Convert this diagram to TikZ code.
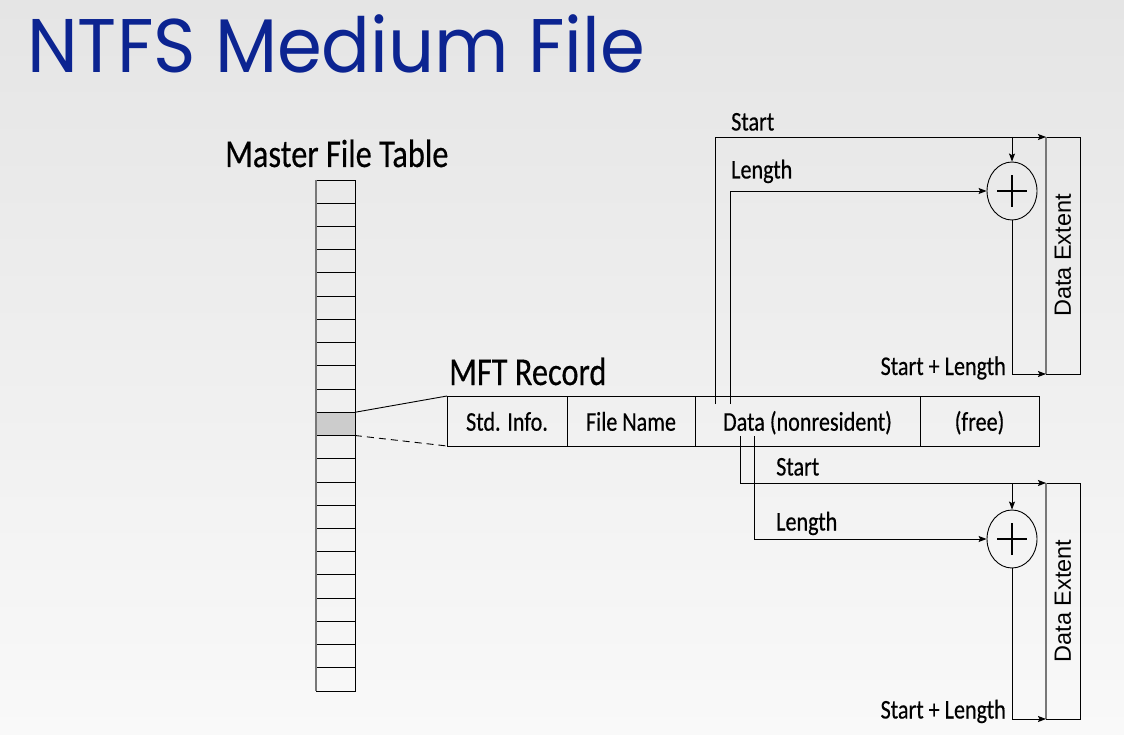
\documentclass[tikz,border=0pt]{standalone}
\usepackage{fontspec}
\usetikzlibrary{arrows.meta,shapes.geometric}
\newfontfamily\titlefont[FakeStretch=0.95]{Poppins}
\newfontfamily\labfont[FakeStretch=0.82,FakeBold=0.4]{Carlito}
\newfontfamily\extfont{Liberation Sans}
\definecolor{titleblue}{RGB}{12,36,145}
\definecolor{bgtop}{RGB}{229,229,229}
\definecolor{bgbot}{RGB}{249,249,249}
\definecolor{slotgray}{RGB}{204,204,204}
\definecolor{edgegray}{RGB}{120,120,120}

\begin{document}
\begin{tikzpicture}[x=1pt,y=-1pt,
  wire/.style={line width=0.9pt},
  arr/.style={wire,-{Stealth[length=8pt,width=6pt,inset=1.5pt]}},
  smalltext/.style={font=\labfont\fontsize{27}{30}\selectfont, inner sep=0pt},
  bigtext/.style={font=\labfont\fontsize{39.5}{42}\selectfont, inner sep=0pt},
  slot/.style={draw, line width=0.9pt, minimum width=39pt, minimum height=23.227pt,
    inner sep=0pt, outer sep=0pt, anchor=north west},
  cell/.style={draw, line width=0.9pt, minimum height=50pt, inner sep=0pt, outer sep=0pt,
    anchor=west, font=\labfont\fontsize{27}{30}\selectfont, text height=19.4pt, text depth=0pt},
  adder/.style={draw, ellipse, line width=0.9pt, minimum width=50pt, minimum height=58pt,
    inner sep=0pt},
  extent/.style={draw, line width=0.9pt, minimum width=34pt, inner sep=0pt, outer sep=0pt,
    font=\extfont\fontsize{23.5}{25}\selectfont},
  plus/.style={line width=2.8pt}]

% background
\useasboundingbox (0,0) rectangle (1124,735);
\fill[top color=bgtop, bottom color=bgbot] (0,0) rectangle (1124,735);

% title
\node[anchor=base west, inner sep=0pt, text=titleblue,
  font=\titlefont\fontsize{76}{80}\selectfont] (title) at (27,73) {NTFS Medium File};

% master file table
\node[bigtext, anchor=base west] (mftlabel) at (225,167) {Master File Table};
\foreach \i in {0,...,21} {
  \ifnum\i=10
    \node[slot, fill=slotgray] (r\i) at (316,{180+\i*23.227}) {};
  \else
    \node[slot] (r\i) at (316,{180+\i*23.227}) {};
  \fi
}
\draw[edgegray, line width=1.5pt] (r0.north west) -- (r21.south west);

% MFT record
\node[bigtext, anchor=base west] (reclabel) at (449,385) {MFT Record};
\node[cell, minimum width=120pt] (std) at (447,421) {Std. Info.};
\node[cell, minimum width=128pt] (fname) at (std.east) {File Name};
\node[cell, minimum width=225pt] (data) at (fname.east) {Data (nonresident)};
\node[cell, minimum width=119pt] (free) at (data.east) {(free)};

\draw[wire] (r10.north east) -- (std.north west);
\draw[wire, dash pattern=on 7pt off 5pt] (r10.south east) -- (std.south west);

% first extent
\node[extent, minimum height=237pt] (ext1) at (1063,255.5) {\rotatebox{90}{Data Extent}};
\draw[edgegray, line width=1.8pt] (ext1.north west) -- (ext1.south west);
\node[adder] (add1) at (1012,191) {};
\draw[plus] ([xshift=-15pt]add1.center) -- ([xshift=15pt]add1.center);
\draw[plus] ([yshift=-16pt]add1.center) -- ([yshift=16pt]add1.center);

\coordinate (s1) at (715,404);
\coordinate (l1) at (730,404);
\draw[arr] (s1) |- (ext1.north west);
\draw[arr] (l1) |- (add1.west);
\draw[arr] (add1.north |- ext1.north west) -- (add1.north);
\draw[arr] (add1.south) |- (ext1.south west);

\node[smalltext, anchor=base west] (st1) at (731,130.5) {Start};
\node[smalltext, anchor=base west] (len1) at (731,178.5) {Length};
\node[smalltext, anchor=base east] (sl1) at (1006,375) {Start + Length};

% second extent
\node[extent, minimum height=236pt] (ext2) at (1063,601) {\rotatebox{90}{Data Extent}};
\draw[edgegray, line width=1.8pt] (ext2.north west) -- (ext2.south west);
\node[adder] (add2) at (1012,539) {};
\draw[plus] ([xshift=-15pt]add2.center) -- ([xshift=15pt]add2.center);
\draw[plus] ([yshift=-16pt]add2.center) -- ([yshift=16pt]add2.center);

\coordinate (s2) at (740,436);
\coordinate (l2) at (754,436);
\draw[arr] (s2) |- (ext2.north west);
\draw[arr] (l2) |- (add2.west);
\draw[arr] (add2.north |- ext2.north west) -- (add2.north);
\draw[arr] (add2.south) |- (ext2.south west);

\node[smalltext, anchor=base west] (st2) at (776,475.5) {Start};
\node[smalltext, anchor=base west] (len2) at (776,530.5) {Length};
\node[smalltext, anchor=base east] (sl2) at (1006,718.5) {Start + Length};

\end{tikzpicture}
\end{document}
